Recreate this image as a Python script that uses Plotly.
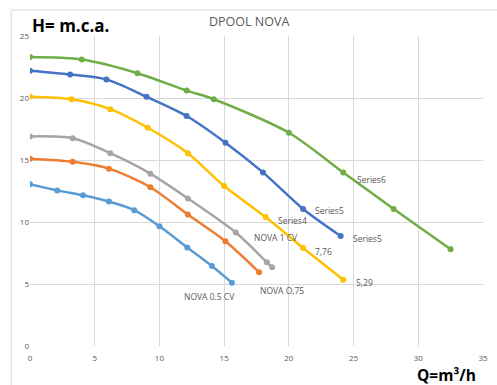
import plotly.graph_objects as go

# ---- data ----
s6_x = [0, 4.0, 8.3, 12.1, 14.2, 20.0, 24.2, 28.1, 32.5]
s6_y = [23.3, 23.1, 22.0, 20.6, 19.9, 17.2, 14.0, 11.05, 7.8]

s5_x = [0, 3.1, 5.9, 9.0, 12.1, 15.1, 18.0, 21.1, 24.0]
s5_y = [22.2, 21.9, 21.5, 20.1, 18.55, 16.4, 14.0, 11.05, 8.87]

s4_x = [0, 3.2, 6.2, 9.1, 12.2, 15.0, 18.2, 21.1, 24.2]
s4_y = [20.1, 19.9, 19.1, 17.6, 15.55, 12.9, 10.4, 7.9, 5.35]

nova1_x = [0, 3.3, 6.2, 9.3, 12.2, 15.9, 18.3, 18.7]
nova1_y = [16.9, 16.75, 15.55, 13.9, 11.9, 9.15, 6.75, 6.35]

nova075_x = [0, 3.3, 6.1, 9.3, 12.2, 15.1, 17.7]
nova075_y = [15.1, 14.85, 14.3, 12.8, 10.6, 8.45, 5.95]

nova05_x = [0, 2.1, 4.1, 6.1, 8.05, 10.0, 12.15, 14.05, 15.6]
nova05_y = [13.05, 12.55, 12.15, 11.65, 10.95, 9.65, 7.95, 6.45, 5.1]

x_ticks = [0, 5, 10, 15, 20, 25, 30, 35]
y_ticks = [0, 5, 10, 15, 20, 25]

series = [
    ("NOVA 0.5 CV", nova05_x, nova05_y, "#5B9BD5"),
    ("NOVA O,75", nova075_x, nova075_y, "#ED7D31"),
    ("NOVA 1 CV", nova1_x, nova1_y, "#A5A5A5"),
    ("Series4", s4_x, s4_y, "#FFC000"),
    ("Series5", s5_x, s5_y, "#4472C4"),
    ("Series6", s6_x, s6_y, "#70AD47"),
]

fig = go.Figure()
for name, xs, ys, col in series:
    fig.add_trace(go.Scatter(
        x=xs, y=ys, name=name, mode="lines+markers",
        line=dict(color=col, width=2.5, shape="spline", smoothing=0.8),
        marker=dict(color=col, size=6),
        showlegend=False,
    ))

lab_font = dict(family="Open Sans, Liberation Sans, sans-serif", size=8.5, color="#595959")
# (text, series x, series y, point index, xanchor, xshift, yshift)
labels = [
    ("Series6", s6_x, s6_y, 6, "left", 12, -7),
    ("Series5", s5_x, s5_y, 7, "left", 10, -2),
    ("Series5", s5_x, s5_y, 8, "left", 10, -2),
    ("Series4", s4_x, s4_y, 6, "left", 10, -3),
    ("7,76", s4_x, s4_y, 7, "left", 10, -3),
    ("5,29", s4_x, s4_y, 8, "left", 11, -3),
    ("NOVA 1 CV", nova1_x, nova1_y, 5, "left", 16, -5),
    ("NOVA O,75", nova075_x, nova075_y, 6, "left", -1, -18),
    ("NOVA 0.5 CV", nova05_x, nova05_y, 8, "right", 5, -14),
]
for txt, xs, ys, i, xa, dx, dy in labels:
    fig.add_annotation(x=xs[i], y=ys[i], text=txt, showarrow=False,
                       xanchor=xa, yanchor="middle", xshift=dx, yshift=dy,
                       font=lab_font)

# titles
fig.add_annotation(xref="paper", yref="paper", x=(251.5 - 30) / 458, y=(346 - 21) / 310,
                   text="DPOOL NOVA", showarrow=False, xanchor="center", yanchor="middle",
                   font=dict(family="Open Sans, sans-serif", size=12.5, color="#595959"))
fig.add_annotation(xref="paper", yref="paper", x=0, y=(346 - 25) / 310,
                   text="<b>H= m.c.a.</b>", showarrow=False, xanchor="left", yanchor="middle",
                   font=dict(family="Open Sans, sans-serif", size=17, color="black"))
fig.add_annotation(xref="paper", yref="paper", x=(483 - 30) / 458, y=(346 - 374.5) / 310,
                   text="<b>Q=m³/h</b>", showarrow=False, xanchor="right", yanchor="middle",
                   font=dict(family="Open Sans, sans-serif", size=15.5, color="black"))

# chart-area border
fig.add_shape(type="rect", xref="paper", yref="paper",
              x0=(11 - 30) / 458, x1=1.2, y0=-0.3, y1=(346 - 10) / 310,
              line=dict(color="#D9D9D9", width=1), layer="below")

tick_font = dict(family="Open Sans, sans-serif", size=8, color="#595959")
fig.update_xaxes(range=[0, 35], tickvals=x_ticks, showgrid=True, gridcolor="#D9D9D9",
                 gridwidth=1, zeroline=False, showline=False, tickfont=tick_font,
                 ticks="", ticklabelstandoff=6, fixedrange=True)
fig.update_yaxes(range=[0, 25], tickvals=y_ticks, showgrid=True, gridcolor="#D9D9D9",
                 gridwidth=1, zeroline=False, showline=False, tickfont=tick_font,
                 ticks="", fixedrange=True)

fig.update_layout(
    width=497, height=385,
    margin=dict(l=30, r=9, t=36, b=39),
    plot_bgcolor="white", paper_bgcolor="white",
)

fig.write_html("out.html", config={"displayModeBar": False},
               post_script="document.body.style.margin='0';document.body.style.overflow='hidden';")
